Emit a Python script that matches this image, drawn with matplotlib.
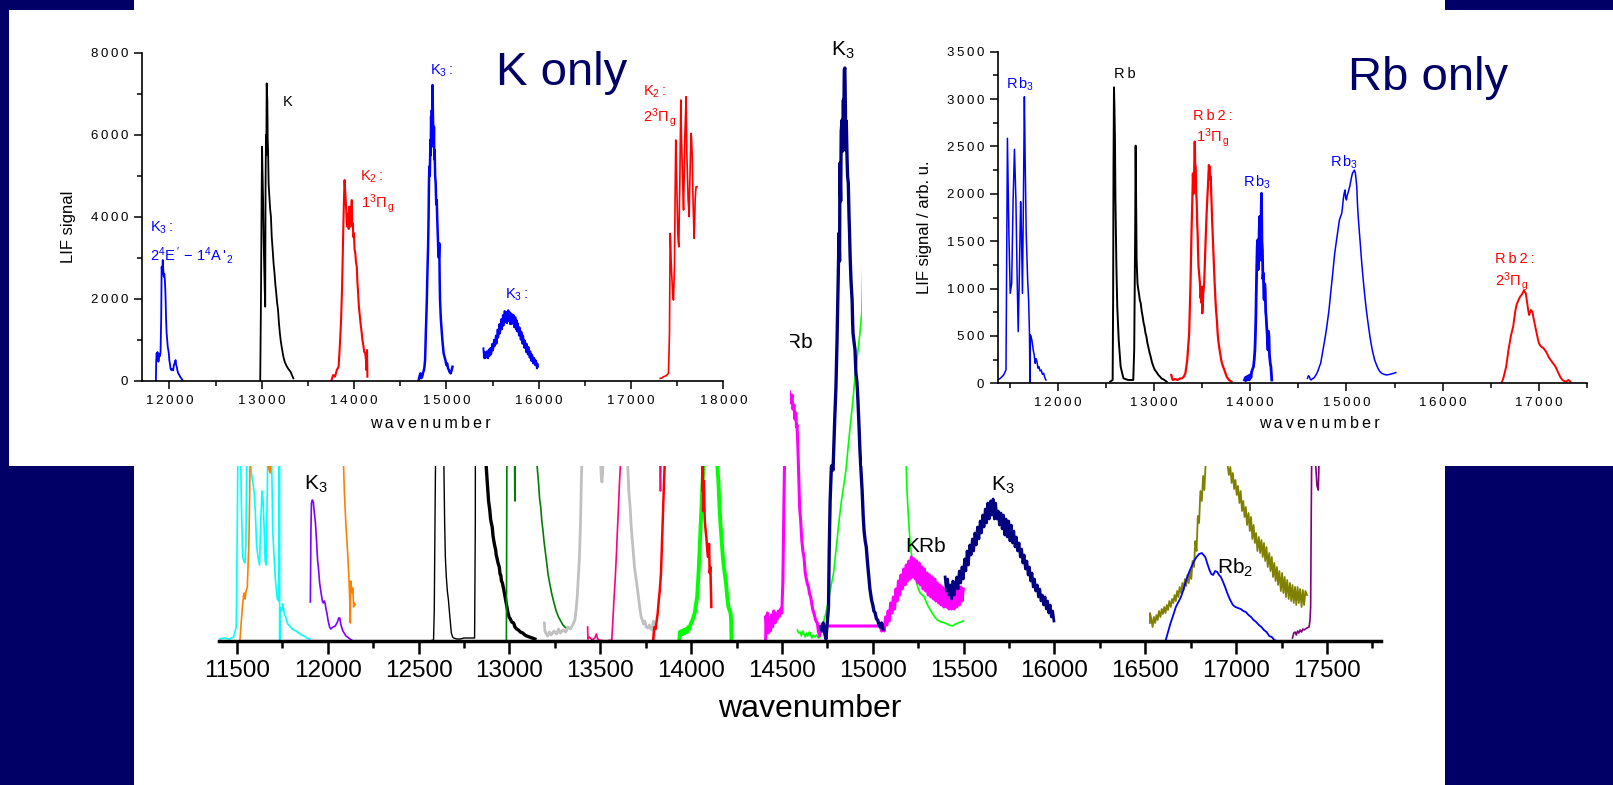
import matplotlib
matplotlib.use("Agg")
import matplotlib.pyplot as plt
from matplotlib.patches import Rectangle
from matplotlib.ticker import MultipleLocator

plt.rcParams['font.family'] = ['Liberation Sans', 'DejaVu Sans']
plt.rcParams['mathtext.fontset'] = 'custom'
plt.rcParams['mathtext.rm'] = 'Liberation Sans'
plt.rcParams['mathtext.it'] = 'Liberation Sans:italic'
plt.rcParams['mathtext.sf'] = 'Liberation Sans'

NAVY = '#000066'
W, H = 1613, 785

# ---------------- combined spectrum (wavenumber, signal arb.) ----------------
cyan = [(11403, 2), (11430, 3), (11460, 2), (11481, 4), (11490, 10), (11496, 14), (11502, 120), (11508, 260),
        (11516, 240), (11524, 140), (11531, 85), (11538, 80), (11544, 78), (11549, 95), (11555, 200), (11562, 300),
        (11570, 220), (11578, 170), (11586, 160), (11594, 150), (11601, 130), (11608, 95), (11615, 85), (11624, 76),
        (11631, 120), (11638, 150), (11644, 140), (11650, 110), (11655, 80), (11660, 76), (11667, 150), (11673, 260),
        (11682, 300), (11690, 190), (11697, 110), (11704, 85), (11712, 60), (11722, 42), (11730, 40), (11734, 300),
        (11735, 0), (11736, 30), (11741, 33), (11746, 30), (11751, 37), (11756, 32), (11762, 26), (11768, 24),
        (11774, 20), (11780, 17), (11790, 15), (11800, 13), (11812, 11), (11825, 10), (11840, 8), (11855, 6),
        (11869, 5), (11885, 3), (11900, 2)]
orange = [(11516, 0), (11522, 15), (11530, 34), (11536, 45), (11540, 48), (11545, 42), (11550, 50), (11557, 54),
          (11562, 80), (11566, 101), (11570, 150), (11574, 200), (11590, 320), (11620, 360), (11650, 250),
          (11668, 190), (11675, 172), (11683, 168), (11690, 220), (11720, 380), (11800, 450), (11900, 420),
          (12000, 330), (12060, 240), (12086, 180), (12091, 150), (12095, 134), (12100, 115), (12105, 101),
          (12110, 85), (12115, 68), (12120, 45), (12124, 18), (12126, 60), (12130, 53), (12135, 48), (12138, 53),
          (12142, 34), (12146, 38), (12150, 36)]
violet = [(11904, 39), (11907, 110), (11910, 138), (11915, 141), (11920, 139), (11926, 128), (11932, 118),
          (11938, 100), (11944, 80), (11948, 74), (11955, 58), (11963, 48), (11970, 40), (11975, 38), (11980, 40),
          (11985, 38), (11990, 32), (11995, 28), (12002, 20), (12010, 14), (12016, 12), (12022, 13), (12030, 14),
          (12041, 15), (12047, 17), (12053, 19), (12060, 23), (12066, 23), (12071, 17), (12076, 14), (12083, 10),
          (12090, 8), (12100, 5), (12115, 3), (12130, 1), (12140, 0)]
black_thin = [(12560, 0), (12582, 1), (12586, 30), (12590, 120), (12594, 200), (12605, 500), (12620, 450),
              (12635, 250), (12639, 175), (12643, 120), (12647, 84), (12652, 65), (12658, 50), (12664, 41),
              (12670, 28), (12675, 18), (12680, 8), (12687, 4), (12693, 3), (12710, 2), (12730, 2), (12750, 3),
              (12770, 3), (12790, 3), (12808, 3), (12812, 120), (12813, 400)]
black_thick = [(12840, 400), (12860, 220), (12870, 180), (12878, 158), (12885, 140), (12892, 130), (12896, 122),
               (12900, 118), (12905, 114), (12909, 106), (12912, 102), (12918, 96), (12924, 91), (12927, 86),
               (12930, 84), (12937, 78), (12944, 74), (12948, 67), (12952, 66), (12956, 60), (12961, 58),
               (12968, 52), (12972, 48), (12975, 45), (12980, 40), (12986, 34), (12992, 28), (12998, 24),
               (13005, 22), (13012, 19), (13023, 18), (13030, 14), (13040, 12), (13049, 11), (13060, 9),
               (13073, 8), (13085, 6), (13095, 5), (13110, 4), (13125, 3), (13140, 2)]
dark_green = [(12983, 0), (12987, 260), (13000, 320), (13026, 290), (13029, 150), (13031, 140), (13033, 290),
              (13080, 420), (13140, 260), (13152, 175), (13160, 158), (13166, 142), (13172, 134), (13178, 120),
              (13184, 111), (13190, 100), (13196, 91), (13205, 78), (13213, 66), (13221, 58), (13233, 47),
              (13245, 38), (13257, 30), (13270, 24), (13282, 20), (13294, 16), (13305, 14), (13314, 13)]
gray = [(13192, 18), (13195, 10), (13200, 8), (13210, 5), (13220, 9), (13230, 6), (13245, 10), (13260, 7),
        (13270, 12), (13280, 8), (13295, 11), (13310, 9), (13322, 14), (13336, 12), (13348, 16), (13360, 21),
        (13366, 30), (13373, 44), (13379, 64), (13385, 84), (13391, 118), (13398, 180), (13430, 380), (13480, 260),
        (13505, 165), (13509, 159), (13513, 170), (13550, 350), (13620, 400), (13651, 175), (13657, 150),
        (13664, 134), (13670, 115), (13676, 101), (13682, 88), (13688, 74), (13694, 66), (13700, 58), (13706, 50),
        (13712, 41), (13718, 32), (13725, 24), (13731, 21), (13737, 17), (13745, 20), (13752, 14), (13762, 13),
        (13770, 16), (13778, 12), (13786, 11), (13792, 20), (13798, 1)]
pink = [(13430, 14), (13432, 2), (13440, 4), (13455, 1), (13470, 3), (13478, 7), (13484, 3), (13490, 1),
        (13530, 0), (13563, 1), (13569, 20), (13575, 41), (13582, 62), (13588, 84), (13594, 110), (13600, 134),
        (13606, 160), (13612, 180), (13640, 380), (13720, 300), (13800, 220), (13828, 180), (13831, 150),
        (13834, 185), (13870, 300)]
red = [(13790, 0), (13798, 14), (13805, 12), (13810, 20), (13816, 28), (13822, 41), (13828, 52), (13834, 68),
       (13840, 100), (13846, 134), (13852, 165), (13859, 200), (13900, 380), (13960, 330), (14030, 250),
       (14060, 190), (14063, 150), (14064, 175), (14066, 130), (14070, 160), (14075, 120), (14080, 110),
       (14085, 101), (14089, 90), (14093, 84), (14096, 95), (14099, 97), (14102, 68), (14106, 74), (14109, 50),
       (14111, 34)]
lime_thick = [(13935, 0), (13938, 9), (13942, 6), (13948, 10), (13953, 7), (13960, 11), (13966, 8), (13972, 12),
              (13978, 9), (13984, 14), (13990, 12), (13996, 16), (14002, 19), (14008, 21), (14014, 25),
              (14020, 28), (14026, 36), (14033, 44), (14039, 62), (14045, 84), (14051, 110), (14057, 134),
              (14063, 160), (14070, 180), (14100, 350), (14135, 260), (14143, 178), (14150, 160), (14156, 134),
              (14162, 115), (14168, 101), (14174, 85), (14180, 74), (14186, 66), (14192, 58), (14198, 45),
              (14205, 34), (14211, 31), (14217, 28), (14220, 20), (14222, 0)]
lime_thin = [(14585, 11), (14592, 8), (14600, 9), (14607, 5), (14614, 10), (14621, 7), (14628, 4), (14635, 8),
             (14642, 5), (14650, 9), (14656, 8), (14664, 3), (14672, 6), (14680, 4), (14690, 6), (14700, 3),
             (14707, 4), (14717, 10), (14727, 18), (14742, 28), (14756, 41), (14770, 55), (14784, 68), (14798, 92),
             (14813, 118), (14827, 140), (14842, 158), (14852, 171), (14870, 205), (14890, 240), (14902, 264),
             (14915, 285), (14929, 308), (14940, 330), (14950, 420), (15040, 540), (15110, 430), (15160, 250),
             (15184, 175), (15188, 150), (15193, 134), (15198, 118), (15204, 101), (15212, 88), (15221, 74),
             (15231, 65), (15241, 58), (15251, 52), (15261, 48), (15272, 46), (15284, 44), (15296, 38),
             (15307, 34), (15317, 31), (15327, 28), (15341, 24), (15355, 21), (15376, 19), (15398, 18),
             (15420, 16), (15441, 15), (15455, 17), (15469, 18), (15484, 19), (15498, 20)]
magenta = [(14410, 0), (14412, 25), (14416, 12), (14420, 28), (14425, 8), (14430, 22), (14436, 10), (14442, 26),
           (14448, 14), (14455, 30), (14462, 18), (14468, 27), (14474, 22), (14480, 30), (14487, 25), (14493, 32),
           (14499, 28), (14505, 60), (14510, 130), (14515, 190), (14525, 240), (14540, 250), (14550, 238),
           (14555, 246), (14560, 232), (14566, 236), (14571, 222), (14576, 228), (14580, 214), (14583, 216),
           (14588, 191), (14593, 160), (14597, 134), (14603, 120), (14609, 101), (14615, 90), (14621, 84),
           (14628, 68), (14634, 62), (14640, 57), (14646, 54), (14652, 47), (14658, 44), (14664, 37), (14670, 31),
           (14677, 27), (14685, 21), (14690, 19), (14695, 18), (14700, 10), (14707, 5), (14713, 15), (15041, 15),
           (15048, 10), (15056, 16), (15063, 10), (15070, 24), (15077, 16), (15084, 30), (15091, 20), (15098, 38),
           (15105, 28), (15113, 44), (15120, 32), (15127, 52), (15134, 40), (15141, 60), (15148, 46), (15155, 66),
           (15162, 52), (15170, 72), (15177, 56), (15184, 76), (15191, 60), (15198, 80), (15205, 62), (15212, 84),
           (15220, 64), (15227, 82), (15234, 62), (15241, 80), (15248, 58), (15255, 78), (15262, 56), (15270, 74),
           (15277, 52), (15284, 72), (15291, 50), (15298, 68), (15305, 46), (15312, 66), (15320, 44), (15327, 64),
           (15334, 42), (15341, 62), (15348, 40), (15355, 58), (15362, 38), (15369, 56), (15376, 36), (15383, 54),
           (15391, 34), (15398, 52), (15405, 34), (15412, 50), (15419, 32), (15426, 50), (15433, 32), (15441, 48),
           (15448, 32), (15455, 50), (15462, 34), (15469, 52), (15476, 36), (15484, 54), (15491, 40), (15498, 52)]
navy_peak = [(14713, 14), (14720, 10), (14727, 18), (14735, 8), (14742, 2), (14750, 20), (14756, 34), (14760, 90),
             (14765, 140), (14772, 175), (14781, 171), (14790, 220), (14797, 254), (14803, 300), (14809, 358),
             (14814, 408), (14817, 380), (14819, 478), (14823, 440), (14826, 510), (14831, 521), (14834, 490),
             (14838, 541), (14840, 515), (14843, 571), (14846, 573), (14849, 535), (14851, 491), (14854, 520),
             (14858, 484), (14861, 465), (14865, 458), (14869, 425), (14872, 408), (14875, 385), (14880, 360),
             (14886, 341), (14889, 318), (14891, 308), (14896, 300), (14902, 291), (14907, 268), (14913, 258),
             (14918, 241), (14924, 215), (14929, 191), (14935, 170), (14941, 151), (14947, 125), (14952, 110),
             (14958, 100), (14964, 94), (14970, 80), (14976, 68), (14984, 52), (14993, 41), (15000, 36),
             (15006, 30), (15013, 28), (15020, 22), (15027, 21), (15034, 16), (15041, 14), (15048, 18), (15056, 12)]
navy_hump = [(15398, 64), (15405, 50), (15412, 62), (15419, 46), (15426, 56), (15434, 42), (15441, 60),
             (15448, 46), (15455, 56), (15462, 64), (15469, 52), (15476, 70), (15484, 58), (15491, 74), (15498, 62),
             (15505, 82), (15512, 70), (15519, 90), (15526, 76), (15534, 96), (15541, 86), (15548, 102), (15555, 90),
             (15562, 108), (15569, 96), (15576, 114), (15584, 102), (15591, 120), (15598, 108), (15605, 126),
             (15612, 114), (15619, 132), (15626, 118), (15633, 138), (15641, 122), (15648, 140), (15655, 126),
             (15662, 142), (15669, 122), (15676, 138), (15683, 122), (15690, 130), (15697, 116), (15705, 128),
             (15712, 112), (15719, 126), (15726, 106), (15733, 122), (15740, 104), (15748, 120), (15755, 100),
             (15762, 116), (15769, 98), (15776, 110), (15783, 94), (15790, 104), (15797, 90), (15805, 98),
             (15812, 84), (15819, 92), (15826, 78), (15833, 86), (15840, 72), (15848, 80), (15855, 66), (15862, 74),
             (15869, 60), (15876, 68), (15883, 54), (15890, 62), (15897, 50), (15905, 56), (15912, 44), (15919, 52),
             (15926, 40), (15933, 46), (15940, 36), (15948, 44), (15955, 32), (15962, 40), (15969, 28),
             (15976, 36), (15983, 24), (15990, 30), (15997, 20)]
olive = [(16525, 18), (16526, 28), (16533, 22), (16540, 14), (16547, 24), (16554, 18), (16561, 26), (16568, 21),
         (16575, 30), (16583, 24), (16590, 32), (16597, 27), (16604, 34), (16611, 28), (16618, 36), (16625, 31),
         (16632, 40), (16640, 34), (16647, 42), (16654, 38), (16661, 46), (16668, 40), (16675, 50), (16682, 44),
         (16689, 54), (16697, 48), (16704, 58), (16711, 51), (16718, 62), (16725, 55), (16732, 66), (16739, 58),
         (16746, 70), (16753, 62), (16760, 80), (16768, 74), (16775, 100), (16782, 90), (16789, 125), (16796, 118),
         (16803, 150), (16811, 140), (16818, 165), (16825, 151), (16832, 178), (16839, 185), (16880, 300),
         (16930, 260), (16953, 176), (16960, 166), (16968, 174), (16975, 158), (16982, 168), (16989, 152),
         (16996, 161), (17003, 146), (17010, 155), (17018, 138), (17025, 150), (17032, 130), (17039, 140),
         (17046, 124), (17053, 134), (17060, 116), (17068, 128), (17075, 110), (17082, 124), (17089, 102),
         (17096, 116), (17103, 98), (17110, 108), (17117, 90), (17125, 104), (17132, 88), (17139, 101), (17146, 84),
         (17153, 98), (17160, 80), (17167, 94), (17174, 74), (17182, 88), (17189, 70), (17196, 84), (17203, 64),
         (17210, 78), (17217, 60), (17224, 74), (17231, 56), (17238, 70), (17246, 50), (17253, 68), (17260, 48),
         (17267, 64), (17274, 44), (17281, 61), (17289, 42), (17296, 58), (17303, 40), (17310, 56), (17317, 38),
         (17324, 54), (17331, 36), (17338, 54), (17345, 38), (17352, 52), (17360, 34), (17367, 51), (17374, 36),
         (17381, 50), (17390, 46)]
blue_rb2 = [(16611, 0), (16625, 9), (16639, 18), (16654, 26), (16668, 34), (16682, 39), (16696, 44), (16711, 52),
            (16725, 61), (16739, 68), (16753, 74), (16768, 80), (16782, 84), (16796, 87), (16811, 88), (16820, 86),
            (16830, 84), (16842, 77), (16853, 71), (16863, 67), (16873, 66), (16884, 70), (16896, 69), (16906, 66),
            (16916, 64), (16928, 59), (16939, 54), (16953, 47), (16967, 41), (16982, 36), (16996, 34), (17010, 33),
            (17025, 32), (17039, 30), (17053, 29), (17068, 26), (17082, 24), (17096, 21), (17110, 19), (17125, 16),
            (17139, 14), (17153, 11), (17167, 9), (17182, 5), (17196, 4), (17210, 1), (17224, 0)]
purple = [(17310, 3), (17317, 8), (17324, 9), (17331, 6), (17338, 10), (17345, 8), (17352, 11), (17360, 9),
          (17367, 12), (17374, 11), (17381, 12), (17390, 13), (17401, 14), (17406, 20), (17410, 34), (17413, 120),
          (17416, 190), (17430, 300), (17438, 175), (17445, 155), (17452, 151), (17455, 170), (17460, 260)]

# ---------------- "K only" spectra (wavenumber, LIF counts) ----------------
k_k3_a = [(11853, 0), (11855, 400), (11860, 667), (11865, 620), (11870, 700), (11875, 560), (11880, 463),
          (11885, 520), (11890, 650), (11897, 600), (11903, 700), (11910, 1500), (11915, 2780), (11921, 2600),
          (11927, 2943), (11933, 2700), (11938, 2536), (11944, 2600), (11950, 2455), (11955, 2200), (11958, 1967),
          (11963, 1500), (11969, 1154), (11975, 1000), (11981, 829), (11987, 750), (11993, 667), (11998, 500),
          (12004, 423), (12011, 300), (12019, 260), (12028, 290), (12039, 250), (12048, 382), (12058, 450),
          (12066, 504), (12073, 380), (12079, 341), (12085, 260), (12094, 179), (12104, 150), (12115, 98),
          (12127, 60), (12140, 16)]
k_atom = [(12983, 0), (12991, 1967), (12999, 4731), (13003, 5707), (13007, 5200), (13014, 4406), (13020, 3500),
          (13026, 2780), (13032, 2200), (13037, 1805), (13041, 4800), (13045, 6000), (13049, 5500), (13053, 7252),
          (13060, 6845), (13064, 5900), (13068, 5626), (13074, 4800), (13080, 4569), (13090, 4200), (13099, 4000),
          (13108, 3500), (13118, 3187), (13128, 2850), (13138, 2618), (13147, 2350), (13157, 2130), (13166, 1900),
          (13176, 1724), (13186, 1400), (13196, 1154), (13205, 980), (13215, 829), (13225, 700), (13234, 585),
          (13250, 450), (13273, 341), (13290, 280), (13311, 220), (13330, 120), (13342, 57)]
k_k2_a = [(13755, 16), (13774, 138), (13793, 98), (13813, 260), (13832, 341), (13843, 748), (13859, 1480),
          (13870, 2293), (13882, 3593), (13890, 4406), (13897, 4894), (13905, 4569), (13913, 4244), (13921, 3837),
          (13928, 3756), (13936, 4081), (13942, 3700), (13948, 4244), (13954, 3900), (13959, 3756), (13967, 4081),
          (13975, 4406), (13980, 3800), (13986, 3837), (13992, 3500), (13998, 3593), (14005, 3200), (14013, 3106),
          (14020, 2900), (14029, 2780), (14036, 2400), (14044, 2130), (14052, 1800), (14063, 1561), (14070, 1400),
          (14083, 1154), (14090, 1000), (14102, 829), (14110, 700), (14121, 667), (14128, 520), (14133, 260),
          (14137, 600), (14140, 748), (14144, 98)]
k_k3_b = [(14700, 16), (14710, 120), (14719, 179), (14728, 60), (14738, 98), (14748, 200), (14757, 260),
          (14763, 350), (14769, 504), (14773, 800), (14777, 1154), (14782, 1500), (14788, 1967), (14792, 2400),
          (14796, 2780), (14802, 3300), (14807, 4000), (14811, 4800), (14815, 5220), (14820, 5000), (14827, 5870),
          (14830, 5500), (14834, 6440), (14838, 6200), (14842, 6600), (14846, 6100), (14850, 7211), (14854, 6500),
          (14858, 6033), (14862, 5700), (14865, 6195), (14869, 5400), (14873, 5626), (14878, 5000), (14884, 4813),
          (14890, 4300), (14896, 4400), (14900, 4000), (14906, 3600), (14912, 3187), (14918, 3000), (14923, 3350),
          (14927, 2500), (14931, 1967), (14940, 1500), (14951, 1154), (14960, 900), (14970, 667), (14980, 580),
          (14989, 504), (15000, 380), (15008, 423), (15018, 300), (15027, 260), (15037, 200), (15047, 179),
          (15056, 250), (15066, 341)]
k_k3_c = [(15401, 789), (15407, 600), (15413, 545), (15420, 700), (15426, 560), (15432, 585), (15440, 720),
          (15446, 560), (15452, 545), (15460, 760), (15466, 600), (15471, 667), (15478, 800), (15484, 640),
          (15490, 700), (15497, 900), (15503, 740), (15509, 789), (15516, 1000), (15522, 840), (15529, 911),
          (15536, 1100), (15542, 900), (15548, 992), (15555, 1250), (15561, 1050), (15567, 1154), (15574, 1380),
          (15580, 1150), (15586, 1276), (15593, 1500), (15600, 1250), (15606, 1398), (15612, 1600), (15618, 1340),
          (15625, 1480), (15631, 1700), (15638, 1420), (15644, 1602), (15651, 1680), (15657, 1400), (15664, 1561),
          (15670, 1720), (15676, 1450), (15683, 1683), (15690, 1380), (15696, 1650), (15702, 1520), (15709, 1380),
          (15715, 1620), (15722, 1420), (15728, 1600), (15735, 1300), (15741, 1439), (15748, 1550), (15754, 1250),
          (15760, 1480), (15767, 1200), (15773, 1400), (15779, 1317), (15786, 1100), (15792, 1300), (15799, 1236),
          (15805, 1000), (15811, 1200), (15818, 1154), (15824, 900), (15831, 1100), (15837, 992), (15844, 800),
          (15850, 980), (15857, 911), (15863, 700), (15870, 900), (15876, 829), (15882, 640), (15889, 820),
          (15895, 748), (15902, 560), (15908, 720), (15914, 667), (15921, 480), (15927, 640), (15934, 585),
          (15940, 420), (15947, 560), (15953, 545), (15960, 380), (15966, 500), (15973, 463), (15980, 300),
          (15986, 420), (15992, 341)]
k_k2_b = [(17316, 57), (17330, 60), (17352, 98), (17380, 120), (17406, 179), (17417, 1154), (17424, 3593),
          (17428, 3500), (17435, 2900), (17441, 2600), (17446, 2374), (17452, 2100), (17460, 1967), (17471, 2780),
          (17478, 4500), (17485, 5870), (17489, 5600), (17496, 4800), (17503, 4000), (17507, 3593), (17512, 3400),
          (17518, 3268), (17524, 4200), (17529, 4813), (17535, 6000), (17540, 6845), (17546, 6000), (17551, 5626),
          (17558, 5000), (17562, 4700), (17569, 4162), (17578, 5220), (17584, 6000), (17590, 6440), (17597, 6927),
          (17604, 5600), (17612, 5000), (17619, 4406), (17625, 4200), (17630, 4000), (17635, 4600), (17640, 5100),
          (17646, 5700), (17651, 6033), (17656, 5900), (17663, 5500), (17670, 4600), (17677, 4000), (17684, 3472),
          (17690, 3900), (17695, 4400), (17700, 4600), (17705, 4731), (17716, 4731)]

# ---------------- "Rb only" spectra (wavenumber, LIF counts) ----------------
rb_rb3_a = [(11376, 35), (11405, 53), (11439, 88), (11463, 141), (11478, 2586), (11493, 1583), (11507, 950),
            (11522, 1055), (11537, 1935), (11551, 2470), (11566, 1935), (11580, 1055), (11590, 545), (11600, 1055),
            (11615, 1917), (11624, 1583), (11634, 950), (11644, 1935), (11654, 3025), (11663, 2287), (11673, 1583),
            (11688, 1091), (11698, 880), (11707, 528), (11712, 0), (11717, 510), (11732, 457), (11746, 352),
            (11756, 300), (11766, 211), (11775, 260), (11785, 229), (11795, 160), (11805, 176), (11817, 130),
            (11829, 141), (11841, 95), (11854, 106), (11866, 60), (11878, 35)]
rb_atom = [(12546, 18), (12571, 35), (12576, 880), (12580, 2287), (12585, 3124), (12590, 2885), (12595, 2568),
           (12600, 1935), (12610, 1231), (12619, 809), (12634, 457), (12654, 176), (12683, 53), (12732, 35),
           (12785, 35), (12795, 352), (12805, 1583), (12810, 2508), (12820, 1302), (12829, 1055), (12836, 1000),
           (12844, 950), (12853, 880), (12863, 844), (12873, 760), (12883, 704), (12892, 640), (12902, 598),
           (12912, 530), (12922, 493), (12931, 430), (12941, 387), (12953, 330), (12966, 281), (12980, 220),
           (12995, 176), (13010, 140), (13024, 123), (13045, 90), (13063, 70), (13080, 50), (13098, 42),
           (13115, 30), (13132, 18)]
rb_rb2_a = [(13180, 88), (13195, 35), (13220, 45), (13244, 35), (13270, 50), (13293, 53), (13310, 70),
            (13327, 106), (13346, 246), (13366, 528), (13380, 1055), (13390, 1583), (13398, 1900), (13405, 2216),
            (13410, 2000), (13415, 2076), (13420, 2350), (13424, 2551), (13429, 2300), (13434, 2287), (13439, 2000),
            (13444, 1935), (13449, 1700), (13454, 1583), (13458, 1400), (13463, 1231), (13470, 1150), (13478, 1055),
            (13483, 900), (13488, 950), (13493, 850), (13498, 1020), (13502, 739), (13507, 820), (13512, 950),
            (13517, 1000), (13522, 1055), (13530, 1300), (13537, 1513), (13542, 1650), (13546, 1759), (13552, 1900),
            (13561, 2076), (13566, 2200), (13571, 2304), (13576, 2250), (13580, 2287), (13585, 2150), (13590, 2181),
            (13595, 2000), (13600, 1865), (13605, 1700), (13610, 1583), (13617, 1400), (13624, 1231), (13631, 1050),
            (13639, 880), (13646, 760), (13654, 668), (13661, 540), (13668, 457), (13678, 380), (13688, 317),
            (13698, 250), (13707, 211), (13720, 170), (13732, 141), (13745, 100), (13756, 70), (13768, 50),
            (13780, 35), (13805, 18)]
rb_rb3_b = [(13941, 35), (13950, 60), (13958, 30), (13966, 70), (13975, 40), (13983, 80), (13990, 35),
            (14000, 90), (14008, 60), (14015, 123), (14025, 150), (14034, 176), (14042, 250), (14049, 352),
            (14054, 500), (14059, 704), (14063, 950), (14068, 1231), (14073, 1450), (14078, 1513), (14083, 1200),
            (14088, 1302), (14093, 1600), (14098, 1759), (14103, 1300), (14107, 1583), (14112, 1700), (14117, 2005),
            (14122, 1500), (14127, 1407), (14132, 1100), (14137, 1161), (14142, 900), (14146, 880), (14151, 1050),
            (14156, 985), (14161, 750), (14166, 704), (14171, 600), (14176, 528), (14181, 420), (14185, 352),
            (14190, 550), (14195, 493), (14200, 300), (14205, 246), (14210, 200), (14215, 176), (14220, 100),
            (14224, 35)]
rb_rb3_c = [(14595, 53), (14605, 80), (14615, 70), (14625, 40), (14634, 35), (14647, 50), (14659, 53),
            (14671, 70), (14683, 88), (14695, 110), (14707, 141), (14720, 180), (14732, 211), (14744, 280),
            (14756, 352), (14768, 420), (14780, 493), (14792, 570), (14805, 668), (14817, 760), (14829, 880),
            (14841, 1000), (14854, 1126), (14866, 1250), (14878, 1372), (14890, 1460), (14902, 1548), (14915, 1640),
            (14927, 1724), (14939, 1760), (14951, 1794), (14958, 1850), (14966, 1935), (14975, 2000), (14985, 2040),
            (14992, 1960), (15000, 1935), (15007, 1980), (15015, 2005), (15024, 2040), (15034, 2076), (15044, 2130),
            (15054, 2181), (15063, 2220), (15073, 2234), (15083, 2250), (15093, 2216), (15100, 2150), (15107, 2076),
            (15114, 1900), (15122, 1759), (15134, 1600), (15146, 1442), (15158, 1280), (15171, 1126), (15183, 1000),
            (15195, 880), (15207, 770), (15220, 668), (15232, 580), (15244, 493), (15256, 420), (15268, 352),
            (15280, 300), (15293, 246), (15310, 200), (15327, 158), (15346, 125), (15366, 106), (15390, 95),
            (15415, 88), (15440, 92), (15463, 98), (15488, 105), (15512, 113)]
rb_rb2_b = [(16610, 0), (16622, 30), (16634, 70), (16646, 120), (16659, 176), (16671, 260), (16683, 352),
            (16695, 420), (16707, 493), (16720, 550), (16732, 598), (16744, 690), (16756, 774), (16768, 830),
            (16780, 862), (16792, 890), (16805, 915), (16817, 930), (16829, 950), (16836, 965), (16844, 978),
            (16853, 965), (16863, 950), (16873, 880), (16883, 809), (16890, 760), (16898, 721), (16907, 750),
            (16917, 774), (16925, 760), (16932, 756), (16941, 700), (16951, 651), (16963, 590), (16976, 528),
            (16988, 470), (17000, 422), (17012, 400), (17024, 387), (17036, 378), (17049, 369), (17061, 350),
            (17073, 334), (17086, 310), (17098, 281), (17110, 262), (17122, 246), (17134, 228), (17146, 211),
            (17158, 195), (17171, 176), (17183, 150), (17195, 123), (17208, 95), (17220, 70), (17232, 50),
            (17244, 35), (17260, 25), (17278, 18), (17292, 25), (17307, 35), (17318, 25), (17327, 18)]


def xy(pairs):
    return [p[0] for p in pairs], [p[1] for p in pairs]


def frame(x0, y0, x1, y1):
    # pixel box (top-left origin) -> figure fraction rect
    return [x0 / W, 1 - y1 / H, (x1 - x0) / W, (y1 - y0) / H]


def spaced(s):
    return '\u2009'.join(s)


fig = plt.figure(figsize=(W / 100, H / 100), dpi=100, facecolor=NAVY)
fig.add_artist(Rectangle((134 / W, 0), (1445 - 134) / W, 1, transform=fig.transFigure,
                         facecolor='white', edgecolor='none', zorder=-1))

# ---------------- main combined spectrum ----------------
ax = fig.add_axes(frame(218.8, 0, 1381.5, 641))
ax.set_facecolor('none')
ax.set_xlim(11400, 17800)
ax.set_ylim(0, 641)
for side in ('left', 'right', 'top'):
    ax.spines[side].set_visible(False)
ax.spines['bottom'].set_linewidth(2.5)
ax.set_yticks([])
ax.set_xticks(range(11500, 17501, 500))
ax.xaxis.set_minor_locator(MultipleLocator(250))
ax.tick_params(axis='x', which='major', direction='out', length=9, width=1.8, labelsize=17.5, pad=5)
ax.tick_params(axis='x', which='minor', direction='out', length=5, width=1.8)

main_traces = [
    (cyan, '#00ffff', 1.2), (orange, '#ff8000', 1.2), (violet, '#8000ff', 1.2),
    (black_thin, 'black', 1.0), (black_thick, 'black', 2.4), (dark_green, '#008000', 1.2),
    (gray, '#c0c0c0', 2.0), (pink, '#ff0080', 1.2), (lime_thick, '#00ff00', 2.8),
    (red, '#ff0000', 1.8), (lime_thin, '#00ff00', 1.2), (magenta, '#ff00ff', 2.2),
    (navy_hump, '#000080', 2.0), (navy_peak, '#000080', 2.4), (olive, '#808000', 1.3),
    (blue_rb2, '#0000ff', 1.3), (purple, '#800080', 1.2),
]
for data, color, lw in main_traces:
    xs, ys = xy(data)
    ax.plot(xs, ys, color=color, lw=lw)

lab = dict(fontsize=15, ha='center', va='center')
ax.text(11935, 157, r'$\mathregular{K_3}$', **lab)
ax.text(14836, 591, r'$\mathregular{K_3}$', **lab)
ax.text(14668, 298, 'KRb', fontsize=15, ha='right', va='center')
ax.text(15293, 95, 'KRb', **lab)
ax.text(15716, 156, r'$\mathregular{K_3}$', **lab)
ax.text(16993, 73, r'$\mathregular{Rb_2}$', **lab)
fig.text(810 / W, 1 - 709 / H, 'wavenumber', fontsize=23, ha='center', va='center')


# ---------------- inset panels ----------------
def white_box(x0, y0, x1, y1):
    b = fig.add_axes(frame(x0, y0, x1, y1), zorder=1)
    b.set_facecolor('white')
    b.set_xticks([])
    b.set_yticks([])
    for s in b.spines.values():
        s.set_visible(False)


def inset(rect, xlim, ylim, xmajor, xminor, ymajor, yminor):
    a = fig.add_axes(rect, zorder=2)
    a.set_facecolor('none')
    a.set_xlim(*xlim)
    a.set_ylim(*ylim)
    for s in ('right', 'top'):
        a.spines[s].set_visible(False)
    for s in ('left', 'bottom'):
        a.spines[s].set_linewidth(1.2)
    a.set_xticks(xmajor, labels=[spaced(str(v)) for v in xmajor])
    a.set_yticks(ymajor, labels=[spaced(str(v)) for v in ymajor])
    a.xaxis.set_minor_locator(MultipleLocator(xminor))
    a.yaxis.set_minor_locator(MultipleLocator(yminor))
    a.tick_params(which='major', direction='out', length=6, width=1.1, labelsize=9.5, pad=4)
    a.tick_params(which='minor', direction='out', length=3.5, width=1.1)
    return a


def ftext(px, py, s, **kw):
    fig.text(px / W, 1 - py / H, s, **kw)


white_box(9, 10, 790, 466)
white_box(862, 10, 1613, 466)

axk = inset(frame(141.8, 52.7, 723.3, 380.7), (11700, 18000), (0, 8000),
            list(range(12000, 18001, 1000)), 500, list(range(0, 8001, 2000)), 1000)
for data, color, lw in [(k_k3_a, '#0000ff', 1.3), (k_atom, 'black', 1.3), (k_k2_a, '#ff0000', 1.5),
                        (k_k3_b, '#0000ff', 1.8), (k_k3_c, '#0000ff', 1.4), (k_k2_b, '#ff0000', 1.2)]:
    xs, ys = xy(data)
    axk.plot(xs, ys, color=color, lw=lw)

axr = inset(frame(998, 51.7, 1587.1, 383.3), (11380, 17500), (0, 3500),
            list(range(12000, 17001, 1000)), 500, list(range(0, 3501, 500)), 250)
for data, color, lw in [(rb_rb3_a, '#0000ff', 1.1), (rb_atom, 'black', 1.4), (rb_rb2_a, '#ff0000', 1.6),
                        (rb_rb3_b, '#0000ff', 2.0), (rb_rb3_c, '#0000ff', 1.1), (rb_rb2_b, '#ff0000', 1.4)]:
    xs, ys = xy(data)
    axr.plot(xs, ys, color=color, lw=lw)

# axis labels and titles of the panels
ftext(68, 227, 'LIF signal', fontsize=12, rotation=90, ha='center', va='center')
ftext(430, 424, spaced('wavenumber'), fontsize=11.5, ha='center', va='center')
ftext(924, 227, 'LIF signal / arb. u.', fontsize=12, rotation=90, ha='center', va='center')
ftext(1319, 423, spaced('wavenumber'), fontsize=11.5, ha='center', va='center')
ftext(562, 73, 'K only', fontsize=34, color=NAVY, ha='center', va='center')
ftext(1428, 78, 'Rb only', fontsize=34, color=NAVY, ha='center', va='center')

# peak assignments, K only
sm = dict(fontsize=10.5, va='center')
ftext(150, 228, r'$\mathregular{K_3:}$', color='#0000ff', ha='left', **sm)
ftext(150, 255, r"$\mathregular{2^4E\,' \,-\, 1^4A\,'_{\,2}}$", color='#0000ff', ha='left', **sm)
ftext(288, 102, 'K', color='black', ha='center', **sm)
ftext(442, 71, r'$\mathregular{K_3:}$', color='#0000ff', ha='center', **sm)
ftext(360, 177, r'$\mathregular{K_2:}$', color='#ff0000', ha='left', **sm)
ftext(361, 204, r'$\mathregular{1^3\Pi_{\,g}}$', color='#ff0000', ha='left', **sm)
ftext(517, 295, r'$\mathregular{K_3:}$', color='#0000ff', ha='center', **sm)
ftext(643, 92, r'$\mathregular{K_2:}$', color='#ff0000', ha='left', **sm)
ftext(643, 118, r'$\mathregular{2^3\Pi_{\,g}}$', color='#ff0000', ha='left', **sm)

# peak assignments, Rb only
ftext(1020, 84, r'$\mathregular{R\,b_3}$', color='#0000ff', ha='center', **sm)
ftext(1125, 74, spaced('Rb'), color='black', ha='center', **sm)
ftext(1213, 116, spaced('Rb2:'), color='#ff0000', ha='center', **sm)
ftext(1213, 138, r'$\mathregular{1^3\Pi_{\,g}}$', color='#ff0000', ha='center', **sm)
ftext(1257, 182, r'$\mathregular{R\,b_3}$', color='#0000ff', ha='center', **sm)
ftext(1344, 162, r'$\mathregular{R\,b_3}$', color='#0000ff', ha='center', **sm)
ftext(1515, 259, spaced('Rb2:'), color='#ff0000', ha='center', **sm)
ftext(1512, 282, r'$\mathregular{2^3\Pi_{\,g}}$', color='#ff0000', ha='center', **sm)

fig.savefig('out.png', dpi=100, facecolor=NAVY)
